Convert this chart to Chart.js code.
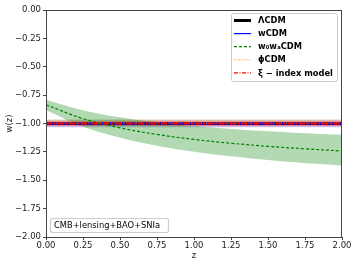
<!DOCTYPE html>
<html>
<head>
<meta charset="utf-8">
<script src="https://cdn.jsdelivr.net/npm/chart.js@4.4.0/dist/chart.umd.min.js"></script>
<style>
html,body{margin:0;padding:0;background:#fff;}
canvas{display:block;}
</style>
</head>
<body>
<canvas id="c" width="357" height="268"></canvas>
<script>
// ---- data ----
const zGrid = [0, 0.25, 0.5, 0.75, 1.0, 1.25, 1.5, 1.75, 2.0];
const w0waMean  = [-0.835, -0.957, -1.038, -1.096, -1.140, -1.174, -1.201, -1.223, -1.242];
const w0waUpper = [-0.790, -0.883, -0.945, -0.989, -1.023, -1.048, -1.069, -1.086, -1.100];
const w0waLower = [-0.880, -1.027, -1.125, -1.195, -1.248, -1.288, -1.321, -1.348, -1.370];
const zEnds = [0, 2];
const lcdmW = [-1.0, -1.0];
const wcdmW = [-1.0, -1.0];
const wcdmUpper = [-0.968, -0.968];
const wcdmLower = [-1.032, -1.032];
const phiW = [-0.995, -0.995];
const phiUpper = [-0.965, -0.965];
const phiLower = [-1.015, -1.015];
const xiW = [-1.0, -1.0];
const xiUpper = [-0.98, -0.98];
const xiLower = [-1.022, -1.022];
const legendLabels = ['ΛCDM', 'wCDM', 'w₀wₐCDM', 'ϕCDM', 'ξ − index model'];
const annotationText = 'CMB+lensing+BAO+SNIa';
const yTicks = [0, -0.25, -0.5, -0.75, -1.0, -1.25, -1.5, -1.75, -2.0];
const xTicks = [0, 0.25, 0.5, 0.75, 1.0, 1.25, 1.5, 1.75, 2.0];

const pts = (xs, ys) => xs.map((x, i) => ({x: x, y: ys[i]}));

const legendStyles = [
  {color: '#000000', width: 3, dash: []},
  {color: '#0000ff', width: 1.2, dash: []},
  {color: '#008000', width: 1.2, dash: [3, 2]},
  {color: '#ffa500', width: 1.0, dash: [1, 1.5]},
  {color: '#ff0000', width: 1.2, dash: [4, 1.5, 1, 1.5]}
];

const FONT = 'DejaVu Sans';

const framePlugin = {
  id: 'frame',
  afterDraw(chart) {
    const {ctx, chartArea: a} = chart;
    ctx.save();
    ctx.strokeStyle = '#444';
    ctx.lineWidth = 1;
    ctx.strokeRect(a.left + 0.5, a.top + 0.5, a.right - a.left - 1, a.bottom - a.top);
    // legend
    const lx = 231, ly = 13, lw = 106, lh = 68;
    ctx.fillStyle = 'rgba(255,255,255,0.85)';
    ctx.strokeStyle = '#cccccc';
    ctx.lineWidth = 1;
    ctx.beginPath();
    ctx.roundRect(lx + 0.5, ly + 0.5, lw, lh, 2);
    ctx.fill();
    ctx.stroke();
    ctx.font = 'bold 8.3px "' + FONT + '"';
    ctx.textBaseline = 'middle';
    ctx.textAlign = 'left';
    legendLabels.forEach((lab, i) => {
      const y = ly + 7.5 + i * 13.1;
      const s = legendStyles[i];
      ctx.beginPath();
      ctx.setLineDash(s.dash);
      ctx.strokeStyle = s.color;
      ctx.lineWidth = s.width;
      ctx.moveTo(234, y);
      ctx.lineTo(251, y);
      ctx.stroke();
      ctx.setLineDash([]);
      ctx.fillStyle = '#000';
      ctx.fillText(lab, 258, y + 0.5);
    });
    // annotation box
    const bx = 50, by = 218, bw = 118, bh = 14;
    ctx.fillStyle = 'rgba(255,255,255,0.9)';
    ctx.strokeStyle = '#cccccc';
    ctx.beginPath();
    ctx.roundRect(bx + 0.5, by + 0.5, bw, bh, 2);
    ctx.fill();
    ctx.stroke();
    ctx.fillStyle = '#000';
    ctx.font = '8.3px "' + FONT + '"';
    ctx.fillText(annotationText, 54, by + bh / 2 + 1);
    ctx.restore();
  }
};

const fmt = v => {
  const s = Math.abs(v).toFixed(2);
  return (v < -1e-9 ? '\u2212' : '') + s;
};

new Chart(document.getElementById('c'), {
  type: 'line',
  data: {
    datasets: [
      // bands
      {data: pts(zGrid, w0waUpper), borderWidth: 0, pointRadius: 0, fill: '+1', backgroundColor: 'rgba(0,128,0,0.3)', tension: 0.4, order: 20},
      {data: pts(zGrid, w0waLower), borderWidth: 0, pointRadius: 0, fill: false, tension: 0.4, order: 21},
      {data: pts(zEnds, phiUpper), borderWidth: 0, pointRadius: 0, fill: '+1', backgroundColor: 'rgba(255,165,0,0.25)', order: 22},
      {data: pts(zEnds, phiLower), borderWidth: 0, pointRadius: 0, fill: false, order: 23},
      {data: pts(zEnds, xiUpper), borderWidth: 0, pointRadius: 0, fill: '+1', backgroundColor: 'rgba(255,0,0,0.35)', order: 24},
      {data: pts(zEnds, xiLower), borderWidth: 0, pointRadius: 0, fill: false, order: 25},
      {data: pts(zEnds, wcdmUpper), borderWidth: 0, pointRadius: 0, fill: '+1', backgroundColor: 'rgba(60,0,200,0.25)', order: 26},
      {data: pts(zEnds, wcdmLower), borderWidth: 0, pointRadius: 0, fill: false, order: 27},
      // lines
      {label: legendLabels[0], data: pts(zEnds, lcdmW), borderColor: '#000', borderWidth: 2.5, pointRadius: 0, fill: false, order: 5},
      {label: legendLabels[1], data: pts(zEnds, wcdmW), borderColor: '#0000ff', borderWidth: 1.8, pointRadius: 0, fill: false, order: 4},
      {label: legendLabels[2], data: pts(zGrid, w0waMean), borderColor: '#008000', borderWidth: 1.2, borderDash: [3, 2], pointRadius: 0, fill: false, tension: 0.4, order: 3},
      {label: legendLabels[3], data: pts(zEnds, phiW), borderColor: '#ffa500', borderWidth: 1, borderDash: [1, 1.5], pointRadius: 0, fill: false, order: 2},
      {label: legendLabels[4], data: pts(zEnds, xiW), borderColor: '#ff0000', borderWidth: 2, borderDash: [6, 2, 1.5, 2], pointRadius: 0, fill: false, order: 1}
    ]
  },
  options: {
    responsive: false,
    animation: false,
    events: [],
    layout: {padding: {left: 0, top: 10, right: 15, bottom: 7}},
    plugins: {legend: {display: false}, tooltip: {enabled: false}},
    scales: {
      x: {
        type: 'linear', min: 0, max: 2,
        afterBuildTicks: s => { s.ticks = xTicks.map(v => ({value: v})); },
        afterFit: s => { s.height = 24; },
        ticks: {callback: v => fmt(v), font: {family: FONT, size: 8.5}, color: '#222', padding: 1, maxRotation: 0, autoSkip: false},
        grid: {drawOnChartArea: false, drawTicks: true, tickLength: 3, color: '#444'},
        border: {display: true, color: '#444'},
        title: {display: true, text: 'z', font: {family: FONT, size: 8.5}, color: '#222', padding: {top: 1, bottom: 0}}
      },
      y: {
        type: 'linear', min: -2, max: 0,
        afterBuildTicks: s => { s.ticks = yTicks.map(v => ({value: v})); },
        afterFit: s => { s.width = 46; },
        ticks: {callback: v => fmt(v), font: {family: FONT, size: 8.5}, color: '#222', padding: 2, autoSkip: false},
        grid: {drawOnChartArea: false, drawTicks: true, tickLength: 3, color: '#444'},
        border: {display: true, color: '#444'},
        title: {display: true, text: 'w(z)', font: {family: FONT, size: 8.5}, color: '#222', padding: {top: 5, bottom: 0}}
      }
    }
  },
  plugins: [framePlugin]
});
</script>
</body>
</html>
